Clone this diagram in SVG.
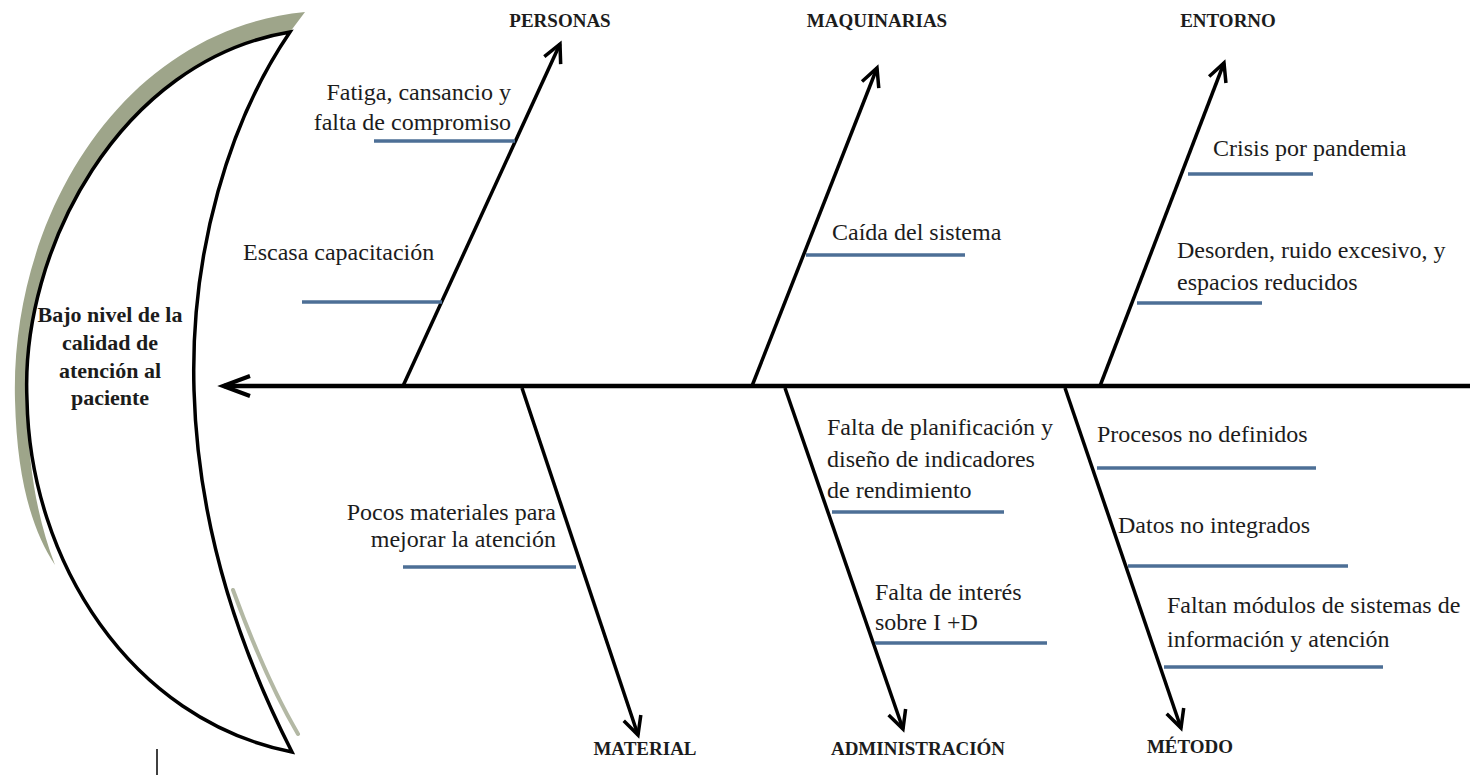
<svg xmlns="http://www.w3.org/2000/svg" width="1470" height="775" viewBox="0 0 1470 775">
<style>
.t{font-family:'Liberation Serif','DejaVu Serif',serif;font-size:24px;fill:#1c1c1c}
.h{font-family:'Liberation Serif','DejaVu Serif',serif;font-size:19px;font-weight:bold;fill:#1c1c1c;text-anchor:middle}
.hd{font-family:'Liberation Serif','DejaVu Serif',serif;font-size:22px;font-weight:bold;fill:#1c1c1c;text-anchor:middle}
.u{stroke:#4d6f96;stroke-width:3.5;fill:none}
.bone{stroke:#000;stroke-width:3.5;fill:none;marker-end:url(#ah)}
</style>
<defs>
<marker id="ah" markerUnits="userSpaceOnUse" viewBox="-22 -12 26 24" refX="0" refY="0" markerWidth="26" markerHeight="24" orient="auto">
<path d="M-18,-9 L0,0 L-18,9" fill="none" stroke="#000" stroke-width="3.5" stroke-linejoin="miter"/>
</marker>
</defs>
<rect width="1470" height="775" fill="#fff"/>
<g id="head">
<path d="M 305 12 C 120 30, 10 220, 15 400 C 17 480, 32 530, 55 565 C 38 520, 28 470, 27 400 C 20 250, 120 60, 290 32 Z" fill="#9ea58a"/>
<path d="M 233 590 C 255 650, 275 695, 298 734" fill="none" stroke="#b3b8a4" stroke-width="4" stroke-linecap="round"/>
<path d="M 290 32 C 120 60, 20 250, 27 400 C 30 560, 130 720, 292 752 C 240 650, 198 530, 194 390 C 190 250, 230 120, 290 32 Z" fill="#fff" stroke="#000" stroke-width="3.5" stroke-linejoin="miter"/>
<text class="hd" x="110" y="322">Bajo nivel de la</text>
<text class="hd" x="110" y="350">calidad de</text>
<text class="hd" x="110" y="378">atención al</text>
<text class="hd" x="110" y="405">paciente</text>
<line x1="157" y1="749" x2="157" y2="775" stroke="#000" stroke-width="1.5"/>
</g>
<g id="connectors">
<line x1="1470" y1="386" x2="224" y2="386" stroke="#000" stroke-width="4.5"/>
<path d="M250,376 L223,386 L250,396" fill="none" stroke="#000" stroke-width="4"/>
<line class="bone" x1="403" y1="386" x2="560" y2="44"/>
<line class="bone" x1="752" y1="386" x2="877" y2="68"/>
<line class="bone" x1="1100" y1="386" x2="1224" y2="63"/>
<line class="bone" x1="522" y1="388" x2="638" y2="735"/>
<line class="bone" x1="785" y1="388" x2="903" y2="729"/>
<line class="bone" x1="1065" y1="388" x2="1181" y2="728"/>
</g>
<g id="personas">
<text class="h" x="560" y="27">PERSONAS</text>
<text class="t" x="511" y="100" text-anchor="end">Fatiga, cansancio y</text>
<text class="t" x="511" y="130" text-anchor="end">falta de compromiso</text>
<line class="u" x1="374" y1="141" x2="515" y2="141"/>
<text class="t" x="243" y="260">Escasa capacitación</text>
<line class="u" x1="302" y1="302" x2="442" y2="302"/>
</g>
<g id="maquinarias">
<text class="h" x="877" y="27">MAQUINARIAS</text>
<text class="t" x="832" y="240">Caída del sistema</text>
<line class="u" x1="806" y1="255" x2="965" y2="255"/>
</g>
<g id="entorno">
<text class="h" x="1228" y="27">ENTORNO</text>
<text class="t" x="1213" y="156">Crisis por pandemia</text>
<line class="u" x1="1188" y1="174" x2="1313" y2="174"/>
<text class="t" x="1177" y="258">Desorden, ruido excesivo, y</text>
<text class="t" x="1177" y="290">espacios reducidos</text>
<line class="u" x1="1137" y1="303" x2="1262" y2="303"/>
</g>
<g id="material">
<text class="h" x="645" y="755">MATERIAL</text>
<text class="t" x="556" y="520" text-anchor="end">Pocos materiales para</text>
<text class="t" x="556" y="547" text-anchor="end">mejorar la atención</text>
<line class="u" x1="403" y1="567" x2="576" y2="567"/>
</g>
<g id="administracion">
<text class="h" x="918" y="755">ADMINISTRACIÓN</text>
<text class="t" x="827" y="435">Falta de planificación y</text>
<text class="t" x="827" y="467">diseño de indicadores</text>
<text class="t" x="827" y="498">de rendimiento</text>
<line class="u" x1="832" y1="512" x2="1004" y2="512"/>
<text class="t" x="875" y="600">Falta de interés</text>
<text class="t" x="875" y="630">sobre I +D</text>
<line class="u" x1="875" y1="643" x2="1047" y2="643"/>
</g>
<g id="metodo">
<text class="h" x="1190" y="753">MÉTODO</text>
<text class="t" x="1097" y="442">Procesos no definidos</text>
<line class="u" x1="1097" y1="468" x2="1316" y2="468"/>
<text class="t" x="1118" y="533">Datos no integrados</text>
<line class="u" x1="1128" y1="566" x2="1348" y2="566"/>
<text class="t" x="1167" y="613">Faltan módulos de sistemas de</text>
<text class="t" x="1167" y="647">información y atención</text>
<line class="u" x1="1164" y1="667" x2="1383" y2="667"/>
</g>
</svg>
